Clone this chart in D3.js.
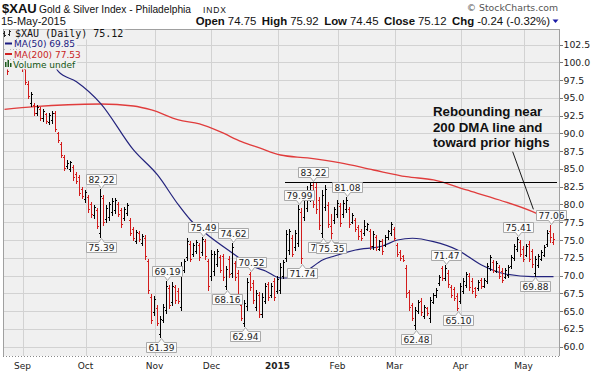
<!DOCTYPE html>
<html><head><meta charset="utf-8">
<script src="https://cdn.jsdelivr.net/npm/d3@7"></script>
<style>html,body{margin:0;padding:0;background:#fff;} svg{display:block;}</style>
</head><body><svg id="c" width="597" height="378"></svg>
<script>
// ---------------- DATA ----------------
const symbol = "$XAU";
const titleText = "Gold & Silver Index - Philadelphia";
const exchange = "INDX";
const asOf = "15-May-2015";
const startDate = "2014-08-22", endDate = "2015-05-15";
const holidays = ["2014-09-01","2014-11-27","2014-12-25","2015-01-01","2015-01-19","2015-02-16","2015-04-03"];

const opens = [100.6,100.8,99.8,101.0,102.2,102.4,
100.9,99.0,97.0,94.3,94.0,92.9,93.4,92.1,92.7,91.6,
91.9,92.8,90.0,88.5,86.7,85.4,85.0,85.3,84.3,83.8,
82.2,80.8,81.0,80.1,78.5,79.2,76.0,80.9,78.0,78.2,
78.9,79.2,80.1,79.2,78.1,78.8,77.8,76.6,74.9,76.0,
74.6,75.3,72.0,67.0,64.9,65.5,61.8,63.8,65.2,68.3,
66.3,68.4,67.9,65.6,70.8,72.6,74.4,73.0,73.5,74.3,
73.3,74.8,72.0,69.9,70.6,71.6,72.6,72.7,68.5,72.3,
70.3,71.7,70.4,65.8,63.4,65.7,70.2,69.0,65.6,67.3,
64.6,66.4,68.8,67.3,69.2,67.8,68.0,70.0,72.5,73.6,
75.3,74.0,74.6,79.0,78.2,79.5,80.9,82.8,82.5,80.6,
76.0,79.7,79.9,77.0,77.8,78.6,79.8,78.6,79.3,79.3,
77.6,77.8,76.8,76.3,76.0,76.6,76.2,74.2,75.4,73.8,
74.9,74.3,75.4,76.0,76.6,74.3,73.3,72.7,71.0,67.7,
65.8,63.0,65.0,66.4,64.3,65.4,64.0,66.3,67.2,68.9,
71.0,69.7,70.4,68.4,68.1,67.1,66.4,67.8,68.7,70.0,
69.3,68.2,68.2,69.4,68.6,69.3,71.1,71.9,70.7,71.2,
70.7,69.8,70.1,71.3,72.5,73.7,74.7,73.8,72.9,74.4,
73.4,70.3,71.5,72.4,72.9,74.4,76.2,74.75];

const highs = [102.8,101.2,101.8,103.0,103.4,102.6,
101.4,99.3,97.4,95.8,94.3,94.0,93.7,93.4,92.9,92.9,
93.1,93.1,90.2,88.8,87.0,86.3,86.1,85.6,84.6,84.2,
82.5,82.0,81.3,80.4,79.9,79.5,82.22,81.3,79.9,80.4,
80.9,80.9,80.4,79.5,79.7,80.2,78.1,76.9,76.4,76.2,
75.9,75.7,72.4,67.4,67.1,65.9,64.3,66.0,69.19,68.7,
69.1,68.7,68.2,71.9,72.4,75.3,74.8,74.6,75.0,74.6,
75.49,75.2,72.4,73.6,73.4,73.8,72.9,73.1,71.3,72.7,
74.62,72.0,70.8,66.1,66.6,69.6,70.52,69.4,68.0,67.7,
67.5,68.9,69.1,68.9,69.6,69.9,71.7,72.2,76.4,76.6,
75.7,76.4,79.99,79.5,81.3,82.6,83.1,83.22,83.0,81.0,
82.0,82.7,80.4,78.6,79.7,80.6,80.2,80.6,81.08,79.7,
78.8,78.1,77.1,76.6,77.8,77.4,76.6,76.2,75.7,75.0,
75.2,75.7,76.4,77.6,76.9,74.6,73.6,72.9,71.5,68.0,
66.1,65.6,66.6,66.8,65.9,65.6,67.0,67.5,68.2,70.1,
71.3,71.47,70.8,68.7,68.4,67.5,68.9,69.6,70.5,70.3,
69.6,68.4,69.4,69.6,69.6,71.7,72.9,72.2,72.0,71.5,
71.0,71.0,71.5,72.9,74.5,75.41,75.0,74.1,74.5,74.8,
73.8,72.7,73.1,73.6,74.3,76.4,77.06,75.92];

const lows = [99.8,98.3,99.4,100.4,101.0,100.2,
98.8,96.9,95.0,93.8,92.6,92.6,91.9,91.7,91.5,91.3,
91.5,90.3,88.8,86.7,84.9,85.1,84.7,83.5,83.0,81.3,
80.9,80.4,79.0,78.3,78.1,76.7,75.39,77.1,77.6,77.8,
78.5,78.8,78.4,76.9,77.8,78.5,75.7,75.0,74.6,74.8,
74.3,72.4,67.5,63.4,64.5,63.0,61.39,63.5,64.8,65.4,
65.9,66.1,66.1,65.2,70.5,72.2,72.0,72.7,73.2,72.2,
72.9,72.4,68.0,69.4,70.1,71.3,70.5,69.4,68.16,69.8,
69.8,69.4,67.0,63.7,62.94,65.2,68.0,66.1,65.2,64.2,
64.2,66.1,66.6,67.0,66.6,67.5,67.5,69.6,72.0,73.1,
72.7,73.6,74.1,71.74,77.8,79.1,80.5,79.6,78.8,76.6,
75.4,79.2,76.8,75.35,77.4,78.3,77.0,78.3,79.0,76.9,
77.4,76.2,75.2,75.0,75.7,76.4,73.8,73.8,73.6,73.6,
73.1,74.1,75.2,75.7,75.0,72.8,72.2,72.0,67.0,65.2,
63.8,62.48,64.7,64.5,64.0,64.5,63.5,66.1,67.0,68.7,
69.4,69.4,68.4,67.0,66.6,65.10,66.1,67.5,68.4,68.0,
67.5,67.0,68.0,68.2,68.4,68.9,70.8,70.5,70.5,69.6,
69.1,69.6,69.8,71.0,72.2,73.4,72.7,72.0,72.7,72.0,
71.2,69.88,71.2,72.2,72.7,74.1,74.7,74.45];

const closes = [102.3,98.8,101.4,102.6,103.0,100.6,
99.2,97.2,95.3,95.5,92.9,93.7,92.2,93.1,91.8,92.6,
92.9,90.6,89.0,87.0,85.2,85.9,86.0,83.8,83.3,81.6,
81.2,81.7,79.3,78.6,79.6,77.0,81.2,77.6,79.5,80.0,
80.5,80.7,78.7,77.2,79.4,79.9,76.0,75.3,76.1,75.1,
75.6,72.8,68.0,63.8,66.7,63.4,63.9,65.6,68.6,65.9,
68.6,66.5,66.4,71.3,72.1,74.9,72.4,74.3,74.7,72.6,
75.1,72.8,68.5,73.0,73.1,73.5,70.8,69.8,70.9,70.2,
74.0,69.8,67.4,64.0,66.1,69.1,68.4,66.5,67.6,64.6,
67.0,68.5,67.0,68.6,67.0,69.5,71.2,71.9,75.9,76.2,
73.1,76.0,79.3,72.5,80.8,82.1,82.7,80.1,79.4,77.1,
81.3,82.2,77.2,76.0,79.4,80.2,77.4,80.2,80.7,77.3,
78.5,76.5,75.5,75.3,77.0,77.2,74.2,75.8,74.0,74.8,
73.4,75.4,76.2,77.3,75.3,73.1,72.5,72.2,67.5,65.6,
64.1,65.1,66.3,64.9,65.6,64.8,66.6,67.2,68.0,69.8,
69.6,71.1,68.8,67.3,66.9,65.5,68.5,69.3,70.2,68.4,
67.8,67.3,69.1,68.5,69.4,71.3,72.6,70.8,71.8,69.9,
69.4,70.8,71.2,72.6,74.2,75.1,73.0,72.3,74.2,72.4,
71.6,72.3,72.8,73.3,74.0,76.0,75.36,75.12];

// moving averages (bar index, value)
const ma50Idx = [17,18,24,32,43,51,58,62,67,75,83,87,92,97,102,106,110,117,126,131,136,143,151,159,167,176,183];
const ma50Val = [99.3,98.68,97.27,94.23,87.67,84.15,79.93,77.82,75.95,73.46,71.25,70.65,69.66,69.66,71.03,72.19,72.76,73.6,74.16,75.0,75.25,74.77,73.6,71.49,70.22,69.85,69.85];
const ma200Idx = [0,10,32,43,49,58,65,72,79,85,92,101,112,123,134,143,154,165,176,183];
const ma200Val = [93.37,93.76,94.13,93.85,93.29,91.89,91.32,90.2,88.83,87.95,86.96,86.54,85.84,84.85,83.91,83.45,82.04,80.63,78.99,77.53];

const priceTicks = [60,62.5,65,67.5,70,72.5,75,77.5,80,82.5,85,87.5,90,92.5,95,97.5,100,102.5];
const highTags = [32,54,66,76,82,98,103,114,147,171,182];
const lowTags  = [32,52,74,80,99,106,109,137,151,177];
const resistanceFrom = 93.5;
const noteLines = ["Rebounding near","200 DMA line and","toward prior highs"];
const notePos = {k:142.8, v:92.38};
const leader = [{k:169.4, v:87.42},{k:176.3, v:79.32}];

// ---------------- SETUP ----------------
const svg = d3.select("#c");
const plot = {l:3, r:559, t:29, b:356};
const BG = "#f0f0f0", GRID = "#d2d2d2", BORDER = "#a0a0a0";
const RED = "#d21c1c", NAVY = "#23237d", MARED = "#e03c3c";
const SANS = "'Liberation Sans', Arial, sans-serif";
const VER = "'DejaVu Sans', Verdana, sans-serif";

const parse = d3.utcParse("%Y-%m-%d"), fmtD = d3.utcFormat("%Y-%m-%d");
const hol = new Set(holidays);
const dates = [];
for (let d = parse(startDate); d <= parse(endDate); d = d3.utcDay.offset(d, 1)) {
  const wd = d.getUTCDay();
  if (wd === 0 || wd === 6 || hol.has(fmtD(d))) continue;
  dates.push(d);
}
const n = Math.min(dates.length, opens.length);
const bars = d3.range(n).map(k => ({k, d: dates[k], o: opens[k], h: highs[k], l: lows[k], c: closes[k],
  up: k === 0 ? true : closes[k] > closes[k-1]}));

const x = d3.scaleLinear().domain([0, 183]).range([4.5, 553.5]);
const y = d3.scaleLinear().domain([58.69, 104.68]).range([plot.b, plot.t]);
const cr = v => Math.round(v) + 0.5;

// plot background
svg.append("rect").attr("x", plot.l).attr("y", plot.t).attr("width", plot.r - plot.l).attr("height", plot.b - plot.t).attr("fill", BG);

svg.append("defs").append("clipPath").attr("id", "clip").append("rect")
  .attr("x", plot.l).attr("y", plot.t).attr("width", plot.r - plot.l).attr("height", plot.b - plot.t);

// grid
const grid = svg.append("g").attr("shape-rendering", "crispEdges");
grid.selectAll("line.h").data(priceTicks).join("line")
  .attr("x1", plot.l).attr("x2", plot.r).attr("y1", d => cr(y(d))).attr("y2", d => cr(y(d)))
  .attr("stroke", GRID);
const monthStarts = bars.filter((b, i) => i > 0 && b.d.getUTCMonth() !== bars[i-1].d.getUTCMonth());
grid.selectAll("line.v").data(monthStarts).join("line")
  .attr("x1", d => cr(x(d.k))).attr("x2", d => cr(x(d.k))).attr("y1", plot.t).attr("y2", plot.b)
  .attr("stroke", GRID);

const g = svg.append("g").attr("clip-path", "url(#clip)");

// MA lines
const maLine = d3.line().x(d => x(d[0])).y(d => y(d[1])).curve(d3.curveMonotoneX);
g.append("path").datum(ma200Idx.map((k, i) => [k, ma200Val[i]])).attr("d", maLine)
  .attr("fill", "none").attr("stroke", MARED).attr("stroke-width", 1.3);
g.append("path").datum(ma50Idx.map((k, i) => [k, ma50Val[i]])).attr("d", maLine)
  .attr("fill", "none").attr("stroke", NAVY).attr("stroke-width", 1.2);

// OHLC bars
g.append("g").attr("shape-rendering", "crispEdges").selectAll("path").data(bars).join("path")
  .attr("d", b => {
    const X = x(b.k);
    return `M${X},${Math.round(y(b.h))}V${Math.round(y(b.l)) + 1}` +
           `M${X - 1.5},${cr(y(b.o))}H${X}M${X},${cr(y(b.c))}H${X + 1.5}`;
  })
  .attr("stroke", b => b.up ? "#000" : RED).attr("stroke-width", 1).attr("fill", "none");

// resistance line at the prior high after the start point
const resLevel = d3.max(bars.filter(b => b.k >= resistanceFrom), b => b.h);
g.append("line").attr("x1", x(resistanceFrom)).attr("x2", x(184)).attr("y1", cr(y(resLevel))).attr("y2", cr(y(resLevel)))
  .attr("stroke", "#000").attr("stroke-width", 1).attr("shape-rendering", "crispEdges");

// tags
const tagG = svg.append("g");
const tagList = [];
highTags.forEach(k => tagList.push({k, v: bars[k].h, hi: true}));
lowTags.forEach(k => tagList.push({k, v: bars[k].l, hi: false}));
tagList.sort((a, b) => a.k - b.k || (a.hi ? -1 : 1));
tagList.forEach(t => {
  const grp = tagG.append("g");
  const txt = grp.append("text").text(t.v.toFixed(2)).attr("font-family", VER).attr("font-size", 9).attr("fill", "#222")
    .attr("text-anchor", "middle");
  const w = Math.round(txt.node().getComputedTextLength() + 4);
  const cx = Math.round(x(t.k)) + 0.5;
  const left = cx - w / 2, right = cx + w / 2;
  let top, d;
  if (t.hi) {
    const bottom = cr(y(t.v) - 5);
    top = bottom - 10;
    d = `M${left},${top}H${right}V${bottom}H${cx + 3}L${cx},${bottom + 4}L${cx - 3},${bottom}H${left}Z`;
  } else {
    top = cr(y(t.v) + 5);
    d = `M${left},${top}H${cx - 3}L${cx},${top - 4}L${cx + 3},${top}H${right}V${top + 10}H${left}Z`;
  }
  grp.insert("path", "text").attr("d", d).attr("fill", "#fbfbfb").attr("stroke", "#a9a9a9").attr("stroke-width", 1);
  txt.attr("x", cx).attr("y", top + 8.6);
});

// annotation
const note = svg.append("text").attr("font-family", SANS).attr("font-weight", "bold").attr("font-size", 13.3).attr("fill", "#111");
noteLines.forEach((s, i) => note.append("tspan").attr("x", x(notePos.k)).attr("y", y(notePos.v) + i * 15.5).text(s));
svg.append("line").attr("x1", x(leader[0].k)).attr("y1", y(leader[0].v)).attr("x2", x(leader[1].k)).attr("y2", y(leader[1].v))
  .attr("stroke", "#000").attr("stroke-width", 0.9);

// plot border
const bd = svg.append("g").attr("shape-rendering", "crispEdges").attr("fill", "none");
bd.append("path").attr("d", `M${plot.l + 0.5},${plot.b}V${plot.t + 0.5}H${plot.r + 0.5}V${plot.b}`).attr("stroke", BORDER);
bd.append("line").attr("x1", plot.l).attr("x2", plot.r + 1).attr("y1", plot.b + 0.5).attr("y2", plot.b + 0.5)
  .attr("stroke", "#888").attr("stroke-dasharray", "1,2");

// right axis
const yAxis = svg.append("g").attr("transform", `translate(${plot.r + 0.5},0)`)
  .call(d3.axisRight(y).tickValues(priceTicks).tickFormat(d3.format(".1f")).tickSize(3).tickPadding(1));
yAxis.select(".domain").remove();
yAxis.selectAll("line").attr("stroke", "#777").attr("shape-rendering", "crispEdges");
yAxis.selectAll("text").attr("font-family", VER).attr("font-size", 9.3).attr("fill", "#222");

// month labels
const mFmt = d3.utcFormat("%b");
svg.append("g").selectAll("text").data(monthStarts).join("text")
  .attr("x", d => x(d.k)).attr("y", 368.5).attr("text-anchor", "middle")
  .attr("font-family", VER).attr("font-size", 9)
  .attr("font-weight", d => d.d.getUTCMonth() === 0 ? "bold" : "normal").attr("fill", "#222")
  .text(d => d.d.getUTCMonth() === 0 ? d.d.getUTCFullYear() : mFmt(d.d));

// legend
const last = bars[n - 1], prev = bars[n - 2];
const leg = svg.append("g");
const rows = [
  {t: `${symbol} (Daily) ${last.c.toFixed(2)}`, base: 37, font: "'DejaVu Sans Mono', monospace", size: 10, fill: "#111", x0: 15},
  {t: `MA(50) ${ma50Val[ma50Val.length - 1].toFixed(2)}`, base: 47, font: VER, size: 9, fill: "#1a1a80", x0: 14},
  {t: `MA(200) ${ma200Val[ma200Val.length - 1].toFixed(2)}`, base: 57.5, font: VER, size: 9, fill: "#c81e1e", x0: 14},
  {t: "Volume undef", base: 68, font: VER, size: 9, fill: "#115511", x0: 13}
];
const tops = [29.5, 39.5, 49.5, 59.5], bots = [39.5, 49.5, 59.5, 69.5];
rows.forEach((r, i) => {
  const bgR = leg.append("rect").attr("fill", BG);
  const t = leg.append("text").attr("x", r.x0).attr("y", r.base).attr("font-family", r.font).attr("font-size", r.size)
    .attr("fill", r.fill).text(r.t);
  const w = t.node().getComputedTextLength();
  bgR.attr("x", plot.l + 1).attr("y", tops[i]).attr("width", r.x0 + w + 2 - plot.l - 1).attr("height", bots[i] - tops[i]);
});
// legend icons
leg.append("path").attr("d", "M4.5,31V37M3,33H4.5M4.5,35.5H6 M9.5,30V36M8,34H9.5M9.5,31.5H11").attr("stroke", "#222").attr("fill", "none").attr("shape-rendering", "crispEdges");
leg.append("line").attr("x1", 5).attr("x2", 12).attr("y1", 43.5).attr("y2", 43.5).attr("stroke", "#1a1a80").attr("stroke-width", 2);
leg.append("line").attr("x1", 5).attr("x2", 12).attr("y1", 54).attr("y2", 54).attr("stroke", "#d02020").attr("stroke-width", 2);
leg.append("path").attr("d", "M5,67V62H6.5V67ZM7.5,67V60H9V67ZM10,67V63H11.5V67Z").attr("fill", "#1d5a1d");

// header
svg.append("text").attr("x", 2).attr("y", 12.5).attr("font-family", SANS).attr("font-weight", "bold").attr("font-size", 13).attr("fill", "#111").text(symbol);
svg.append("text").attr("x", 39).attr("y", 12.5).attr("font-family", SANS).attr("font-size", 11).attr("fill", "#111")
  .attr("textLength", 152).attr("lengthAdjust", "spacingAndGlyphs").text(titleText);
svg.append("text").attr("x", 203).attr("y", 12.5).attr("font-family", SANS).attr("font-size", 8.5).attr("letter-spacing", 0.9).attr("fill", "#111").text(exchange);
svg.append("text").attr("x", 558).attr("y", 10.5).attr("text-anchor", "end").attr("font-family", VER).attr("font-size", 9.3).attr("fill", "#555").text("\u00A9 StockCharts.com");
svg.append("text").attr("x", 1).attr("y", 24.5).attr("font-family", SANS).attr("font-size", 11).attr("fill", "#111").text(asOf);

// quote line, laid out right-to-left piece by piece
const chg = last.c - prev.c, pct = chg / prev.c * 100;
const pieces = [["Open", true], [last.o.toFixed(2), false], ["High", true], [last.h.toFixed(2), false],
 ["Low", true], [last.l.toFixed(2), false], ["Close", true], [last.c.toFixed(2), false],
 ["Chg", true], [`${chg.toFixed(2)} (${pct.toFixed(2)}%)`, false]];
let cursor = 550;
for (let i = pieces.length - 1; i >= 0; i--) {
  const [s, b] = pieces[i];
  const t = svg.append("text").attr("x", cursor).attr("y", 24.5).attr("text-anchor", "end").attr("font-family", SANS)
    .attr("font-size", 11.4).attr("font-weight", b ? "bold" : "normal").attr("fill", "#111").text(s);
  const w = t.node().getComputedTextLength();
  cursor -= w + (b ? 5.5 : 3);
}
svg.append("path").attr("d", chg < 0 ? "M552.5,19.5H558.5L555.5,23Z" : "M552.5,23H558.5L555.5,19.5Z").attr("fill", "#1a1aa6");
</script></body></html>
